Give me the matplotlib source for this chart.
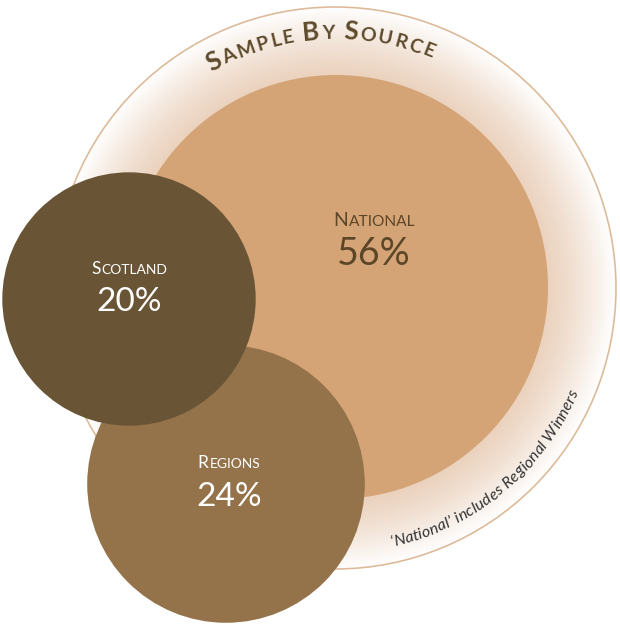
import numpy as np
import matplotlib
matplotlib.use("Agg")
import matplotlib.pyplot as plt
from matplotlib.patches import Circle
from matplotlib.offsetbox import TextArea, HPacker, AnnotationBbox
from matplotlib.font_manager import FontProperties, findfont
from matplotlib.ft2font import FT2Font

# data
sources = ["National", "Scotland", "Regions"]
shares = [56, 20, 24]
colors = ["#D5A476", "#695535", "#94724A"]
text_colors = ["#5B4628", "#FFFFFF", "#FFFFFF"]
title = "Sample by Source"
note = "\u2018National\u2019 includes Regional Winners"

W, H = 620, 624
PX = 100 / 72.0  # px per point
FAMILY = "Lato"

fig = plt.figure(figsize=(W / 100, H / 100), dpi=100)
ax = fig.add_axes([0, 0, 1, 1])
ax.set_xlim(0, W)
ax.set_ylim(H, 0)
ax.axis("off")

# outer disc with radial fade
ocx, ocy, orad = 335, 288, 281
xx, yy = np.meshgrid(np.arange(W) + 0.5, np.arange(H) + 0.5)
rr = np.hypot(xx - ocx, yy - ocy)
t = np.clip((rr - 205) / (orad - 205), 0, 1) ** 1.3
c0 = np.array([234, 208, 187]) / 255.0
img = np.ones((H, W, 4))
for k in range(3):
    img[..., k] = c0[k] + (1 - c0[k]) * t
img[..., 3] = (rr <= orad).astype(float)
ax.imshow(img, extent=(0, W, H, 0), origin="upper", interpolation="bilinear", zorder=1)
ax.add_patch(Circle((ocx, ocy), orad, fill=False, ec="#DDBB9A", lw=1.2, zorder=2))

# bubbles, area proportional to share
scale = 212 / np.sqrt(shares[0])
centers = {"National": (336, 287), "Scotland": (129, 299), "Regions": (226, 484)}
label_pos = {"National": (374, 220), "Scotland": (129, 269), "Regions": (229, 463)}
num_y = {"National": 265, "Scotland": 311, "Regions": 506}
sizes = {"National": (14, 11.2, 27), "Scotland": (12.5, 10, 24), "Regions": (12.5, 10, 24)}
order = {"National": 3, "Regions": 4, "Scotland": 5}

for name, val, col, tc in zip(sources, shares, colors, text_colors):
    cx, cy = centers[name]
    ax.add_patch(Circle((cx, cy), scale * np.sqrt(val), color=col, lw=0, zorder=order[name]))
    big, small, num = sizes[name]
    lx, ly = label_pos[name]
    parts = [TextArea(name[0].upper(), textprops=dict(fontsize=big, color=tc, family=FAMILY)),
             TextArea(name[1:].upper(), textprops=dict(fontsize=small, color=tc, family=FAMILY))]
    box = HPacker(children=parts, align="baseline", pad=0, sep=0.5)
    ax.add_artist(AnnotationBbox(box, (lx, ly), frameon=False,
                                 box_alignment=(0.5, 0.5), zorder=10))
    ax.text(lx, num_y[name], f"{val}%", fontsize=num, color=tc, family=FAMILY,
            ha="center", va="baseline", zorder=10)


def advance(ch, size, weight="normal", style="normal"):
    fp = FontProperties(family=FAMILY, size=size, weight=weight, style=style)
    ft = FT2Font(findfont(fp))
    ft.set_size(size, 72)
    g = ft.load_char(ord(ch))
    return g.linearHoriAdvance / 65536.0 * PX


def arc_text(items, r, center_deg, top, spacing, **kw):
    # items: list of (char, size)
    adv = [advance(c, s, kw.get("fontweight", "normal"), kw.get("fontstyle", "normal")) for c, s in items]
    total = sum(adv) + spacing * (len(adv) - 1)
    c0 = np.radians(center_deg)
    pos = 0.0
    for (ch, s), a in zip(items, adv):
        mid = pos + a / 2
        if top:
            th = c0 + total / 2 / r - mid / r
            rot = np.degrees(th) - 90
        else:
            th = c0 - total / 2 / r + mid / r
            rot = np.degrees(th) + 90
        ax.text(ocx + r * np.cos(th), ocy - r * np.sin(th), ch, fontsize=s, rotation=rot,
                rotation_mode="anchor", ha="center", va="baseline", family=FAMILY, zorder=10, **kw)
        pos += a + spacing


# small caps title along the top of the ring
title_items = []
for word_i, word in enumerate(title.split(" ")):
    if word_i:
        title_items.append((" ", 14))
    title_items.append((word[0].upper(), 18.5))
    title_items += [(c.upper(), 14) for c in word[1:]]
arc_text(title_items, 249, 93.5, True, 2.0, color="#5E4B2C", fontweight="bold")

# footnote along the lower right of the ring
arc_text([(c, 11.5) for c in note], 265, -50.5, False, 0.3, color="#333333", fontstyle="italic")

fig.savefig("out.png", dpi=100)
